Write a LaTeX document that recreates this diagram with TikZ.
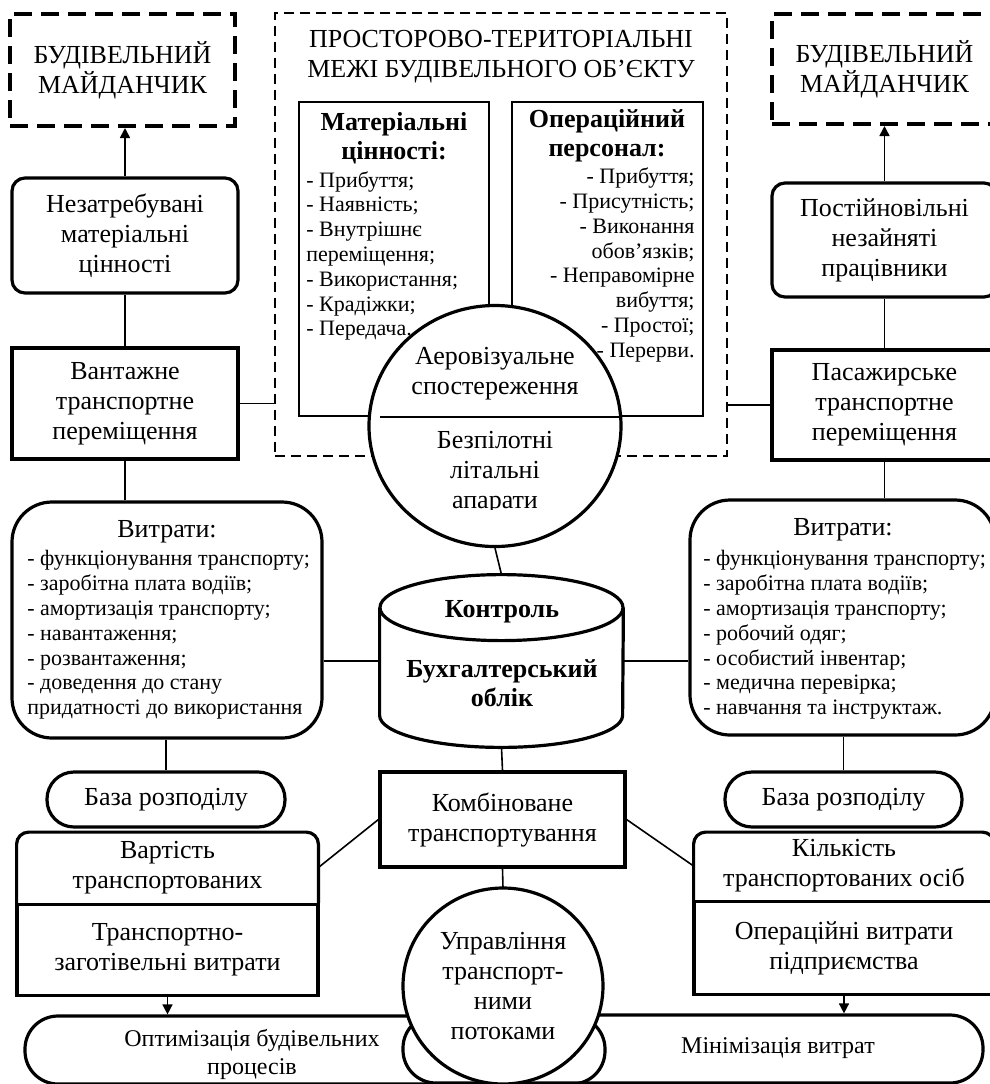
\documentclass[tikz,border=0pt]{standalone}
\usepackage{fontspec}
\setmainfont{Liberation Serif}
\usepackage{tikz}
\usetikzlibrary{arrows.meta,positioning,shapes.geometric,calc}

\begin{document}
\begin{tikzpicture}[
  x=0.5pt, y=-0.5pt,
  font=\fontsize{13}{15}\selectfont,
  box/.style={rectangle, draw, line width=1.6pt, align=center, inner sep=0pt},
  rbox/.style={box, rounded corners=6.5pt},
  site/.style={box, line width=2pt, dash pattern=on 9pt off 4.5pt},
  zonebox/.style={rectangle, draw, line width=0.8pt, dash pattern=on 5pt off 3pt},
  inbox/.style={rectangle, draw, line width=0.8pt},
  pill/.style={box, rounded corners=13.5pt},
  goal/.style={rectangle, draw, line width=1.6pt, rounded corners=16.5pt},
  oval/.style={ellipse, draw, line width=1.6pt, fill=white, align=center, inner sep=0pt},
  txt/.style={align=center, inner sep=0pt},
  ttl/.style={txt, font=\fontsize{13}{14.5}\selectfont\bfseries},
  lst/.style={align=left, inner sep=0pt, font=\fontsize{11}{12.4}\selectfont},
  lstr/.style={lst, align=right},
  small/.style={txt, font=\fontsize{12}{14}\selectfont},
  thickline/.style={line width=1.6pt},
  conn/.style={line width=0.8pt},
  arr/.style={conn, -{Triangle[length=5pt,width=5pt]}}
]
\useasboundingbox (0,0) rectangle (990,1084);
\clip (0,0) rectangle (990,1084);

\node[site, minimum width=112.5pt, minimum height=56pt] (siteL) at (122.5,70) {БУДІВЕЛЬНИЙ\\МАЙДАНЧИК};
\node[site, minimum width=112.5pt, minimum height=55pt] (siteR) at (884.5,69) {БУДІВЕЛЬНИЙ\\МАЙДАНЧИК};
\node[rbox, minimum width=113pt, minimum height=57.5pt] (unusedL) at (125,235.5) {Незатребувані\\матеріальні\\цінності};
\node[rbox, minimum width=112.5pt, minimum height=57pt] (freeR) at (884.5,240) {Постійновільні\\незайняті\\працівники};
\node[box, minimum width=113pt, minimum height=55.5pt] (cargo) at (125,403.5) {Вантажне\\транспортне\\переміщення};
\node[box, minimum width=112.5pt, minimum height=55pt] (pass) at (884.5,405) {Пасажирське\\транспортне\\переміщення};

\node[zonebox, minimum width=226pt, minimum height=221.5pt] (zone) at (501,234.5) {};
\node[txt] (zonettl) at (501,57) {ПРОСТОРОВО-ТЕРИТОРІАЛЬНІ\\МЕЖІ БУДІВЕЛЬНОГО ОБ’ЄКТУ};
\node[inbox, minimum width=95pt, minimum height=157pt] (mat) at (394,259) {};
\node[inbox, minimum width=95.5pt, minimum height=157pt] (staff) at (607.5,259) {};
\node[ttl] (matttl) at (394,138) {Матеріальні\\цінності:};
\node[lst, anchor=west] (matlist) at (306,256) {- Прибуття;\\- Наявність;\\- Внутрішнє\\переміщення;\\- Використання;\\- Крадіжки;\\- Передача.};
\node[ttl] (staffttl) at (607,136) {Операційний\\персонал:};
\node[lstr, anchor=east] (stafflist) at (695,265) {- Прибуття;\\- Присутність;\\- Виконання\\обов’язків;\\- Неправомірне\\вибуття;\\- Простої;\\- Перерви.};

\node[oval, minimum width=126pt, minimum height=120.5pt] (aero) at (495,426) {};
\draw[conn] ($(aero.west)+(13,-9)$) -- ($(aero.east)+(-1,-9)$);
\node[txt] (aerottl) at (495,374) {Аеровізуальне\\спостереження};
\begin{scope}
  \clip ($(aero.west)+(0,-9)$) rectangle ($(aero.east)+(0,83)$);
  \node[txt] (drone) at (495,473) {Безпілотні\\літальні\\апарати};
\end{scope}

\node[minimum width=121.5pt, minimum height=86pt, inner sep=0pt] (acc) at (501.5,661) {};
\draw[thickline, fill=white] ($(acc.north)+(0,33)$) ellipse [x radius=121.5, y radius=33];
\draw[thickline] ($(acc.north west)+(0,33)$) -- ($(acc.south west)+(0,-32)$)
  arc[start angle=180, end angle=0, x radius=121.5, y radius=32] -- ($(acc.north east)+(0,33)$);
\node[ttl] (ctrl) at (502,612) {Контроль};
\node[ttl] (ledger) at (502,683) {Бухгалтерський\\облік};

\node[box, rounded corners=20pt, minimum width=155pt, minimum height=118pt] (costL) at (167,620) {};
\node[txt] (costLttl) at (167,532) {Витрати:};
\node[lst, anchor=west] (costLlist) at (27,635) {- функціонування транспорту;\\- заробітна плата водіїв;\\- амортизація транспорту;\\- навантаження;\\- розвантаження;\\- доведення до стану\\придатності до використання};
\node[box, rounded corners=20pt, minimum width=152.5pt, minimum height=117.5pt] (costR) at (842.5,617.5) {};
\node[txt] (costRttl) at (843,530) {Витрати:};
\node[lst, anchor=west] (costRlist) at (703,635) {- функціонування транспорту;\\- заробітна плата водіїв;\\- амортизація транспорту;\\- робочий одяг;\\- особистий інвентар;\\- медична перевірка;\\- навчання та інструктаж.};

\node[pill, minimum width=119pt, minimum height=27.5pt] (baseL) at (166,799.5) {База розподілу};
\node[pill, minimum width=118.5pt, minimum height=27.5pt] (baseR) at (843.5,799.5) {База розподілу};

\node[txt, minimum width=150.5pt, minimum height=35pt] (valtop) at (167.5,867.5) {Вартість\\транспортованих};
\draw[thickline, rounded corners=6pt] (valtop.south west) |- (valtop.north east) -- (valtop.south east);
\node[box, minimum width=150.5pt, minimum height=45.5pt, below=0pt of valtop] (valbot) {Транспортно-\\заготівельні витрати};
\node[txt, minimum width=150pt, minimum height=33.5pt] (numtop) at (844,866) {Кількість\\транспортованих осіб};
\draw[thickline, rounded corners=6pt] (numtop.south west) |- (numtop.north east) -- (numtop.south east);
\node[box, minimum width=150pt, minimum height=46.5pt, below=0pt of numtop] (numbot) {Операційні витрати\\підприємства};

\node[box, minimum width=122.5pt, minimum height=47.5pt] (combo) at (502.5,819.5) {Комбіноване\\транспортування};

\node[goal, minimum width=290pt, minimum height=34pt] (optL) at (315,1050) {};
\node[goal, minimum width=290pt, minimum height=34pt] (minR) at (693,1049) {};
\node[small] (opttxt) at (252,1054) {Оптимізація будівельних\\процесів};
\node[small] (mintxt) at (778,1048) {Мінімізація витрат};

\draw[arr] (unusedL.north) -- (unusedL.north |- siteL.south);
\draw[conn] (unusedL) -- (cargo);
\draw[conn] (cargo.east) -- (cargo.east -| zone.west);
\draw[conn] (cargo.south) -- (cargo.south |- costL.north);
\draw[conn] (acc.west -| costL.east) -- (acc.west);
\draw[conn] (baseL.north |- costL.south) -- (baseL.north);
\draw[conn] (valtop.east) -- (combo.west);
\draw[conn] (combo.east) -- (numtop.west);
\draw[arr] (valbot.south) -- (valbot.south |- optL.north);
\draw[arr] (numbot.south) -- (numbot.south |- minR.north);
\draw[conn] (aero.south) -- (acc.north);
\draw[conn] (acc.south) -- (combo.north);
\draw[conn] (combo.south) -- (503,888);
\draw[arr] (freeR.north) -- (freeR.north |- siteR.south);
\draw[conn] (freeR) -- (pass);
\draw[conn] (pass.west) -- (pass.west -| zone.east);
\draw[conn] (pass.south) -- (pass.south |- costR.north);
\draw[conn] (acc.east) -- (acc.east -| costR.west);
\draw[conn] (baseR.north |- costR.south) -- (baseR.north);

\node[oval, minimum width=100pt, minimum height=98pt] (manage) at (503,986) {Управління\\транспорт-\\ними\\потоками};
\end{tikzpicture}
\end{document}
